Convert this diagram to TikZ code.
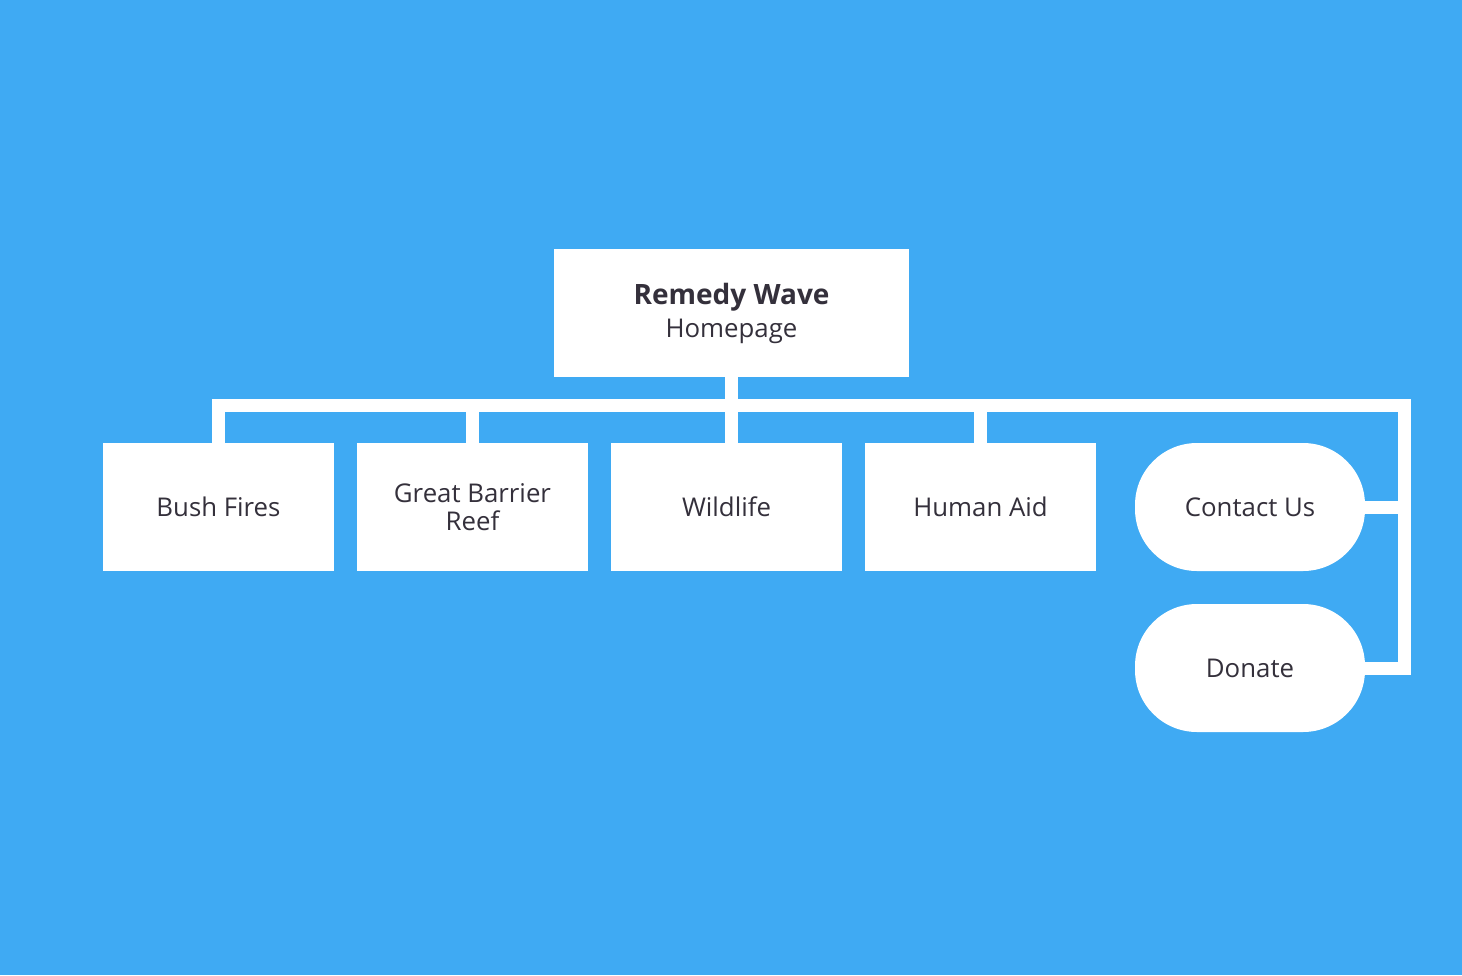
\documentclass[tikz,border=0pt]{standalone}
\usepackage{fontspec}
\setmainfont{Open Sans}
\definecolor{bgblue}{HTML}{3FAAF3}
\definecolor{txt}{HTML}{34303B}
\begin{document}
\begin{tikzpicture}[x=1pt,y=-1pt,
  box/.style={fill=white,draw=none,minimum width=231pt,minimum height=128pt,inner sep=0pt,text=txt,font=\fontsize{25.8}{28.5}\selectfont,align=center},
  pill/.style={box,minimum width=230pt,rounded corners=62pt},
  conn/.style={draw=white,line width=13pt,line join=miter}]
\fill[bgblue] (0,0) rectangle (1462,975);
\useasboundingbox (0,0) rectangle (1462,975);
\node[box,minimum width=355pt,font=\fontsize{25.8}{33}\selectfont] (root) at (731.5,313) {{\fontsize{28}{33}\selectfont\bfseries Remedy Wave}\\Homepage};
\node[box] (bf) at (218.5,507) {Bush Fires};
\node[box] (gbr) at (472.5,507) {Great Barrier\\Reef};
\node[box] (wl) at (726.5,507) {Wildlife};
\node[box] (ha) at (980.5,507) {Human Aid};
\node[pill] (cu) at (1250,507) {Contact Us};
\node[pill] (dn) at (1250,668) {Donate};
\coordinate (jl) at (218.5,405.5);
\coordinate (jr) at (1404.5,405.5);
\draw[conn] (bf.north) -- (jl) -- (jr) |- (dn.east);
\draw[conn] (root.south) -- (root.south |- wl.north);
\draw[conn] (gbr.north) -- (gbr.north |- jl);
\draw[conn] (ha.north) -- (ha.north |- jl);
\draw[conn] (cu.east) -- (cu.east -| jr);
\end{tikzpicture}
\end{document}
